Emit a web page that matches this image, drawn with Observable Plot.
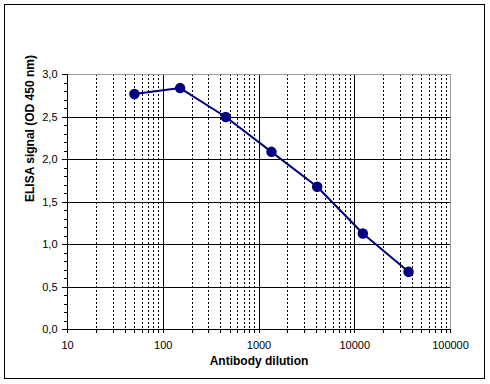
<!DOCTYPE html>
<html>
<head>
<meta charset="utf-8">
<script src="https://cdn.jsdelivr.net/npm/d3@7"></script>
<script src="https://cdn.jsdelivr.net/npm/@observablehq/plot@0.6"></script>
<style>
  body { margin: 0; background: #fff; }
  #wrap { position: relative; width: 490px; height: 384px; }
  #border { position: absolute; left: 4px; top: 4px; width: 479px; height: 373px; border: 1px solid #000; pointer-events: none; }
</style>
</head>
<body>
<div id="wrap"><div id="border"></div></div>
<script>
const dilution = [50, 150, 450, 1350, 4050, 12150, 36450];
const signal = [2.77, 2.84, 2.50, 2.09, 1.68, 1.13, 0.68];
const xMajorTicks = [10, 100, 1000, 10000, 100000];
const yMajorTicks = [0, 0.5, 1.0, 1.5, 2.0, 2.5, 3.0];
const xTitle = "Antibody dilution";
const yTitle = "ELISA signal (OD 450 nm)";

const data = dilution.map((d, i) => ({dilution: d, signal: signal[i]}));
const xMinorTicks = [];
for (let e = 1; e < 5; e++) for (let k = 2; k <= 9; k++) xMinorTicks.push(k * Math.pow(10, e));
const yMinorTicks = d3.range(0, 31).map(i => i / 10);
const comma = d => d.toFixed(1).replace(".", ",");
const font = "Liberation Sans, Arial, sans-serif";
const crisp = {shapeRendering: "crispEdges"};

const chart = Plot.plot({
  width: 490,
  height: 384,
  marginLeft: 67,
  marginRight: 40,
  marginTop: 74,
  marginBottom: 55,
  style: {fontFamily: font, fontSize: "11px", color: "#000", background: "transparent"},
  x: {type: "log", domain: [10, 100000]},
  y: {domain: [0, 3]},
  marks: [
    Plot.ruleX(xMinorTicks, {stroke: "#000", strokeDasharray: "2,2", strokeWidth: 1, ...crisp}),
    Plot.ruleX(xMajorTicks.slice(1, -1), {stroke: "#000", strokeWidth: 1, ...crisp}),
    Plot.ruleY(yMajorTicks.slice(1, -1), {stroke: "#000", strokeWidth: 1, ...crisp}),
    Plot.ruleY([3], {stroke: "#999", ...crisp}),
    Plot.ruleX([100000], {stroke: "#999", ...crisp}),
    Plot.axisY(yMinorTicks, {tickSize: 3, text: null, label: null, stroke: "#000", ...crisp}),
    Plot.axisY(yMajorTicks, {tickSize: 5, tickPadding: 5, tickFormat: comma, label: null, stroke: "#000", fill: "#000", ...crisp}),
    Plot.axisX(xMinorTicks, {tickSize: 4, text: null, label: null, stroke: "#000", ...crisp}),
    Plot.axisX(xMajorTicks, {tickSize: 4, tickPadding: 8, tickFormat: d => String(d), label: null, stroke: "#000", fill: "#000", ...crisp}),
    Plot.ruleY([0], {stroke: "#000", strokeWidth: 1, ...crisp}),
    Plot.ruleX([10], {stroke: "#000", strokeWidth: 1, ...crisp}),
    Plot.line(data, {x: "dilution", y: "signal", stroke: "#000080", strokeWidth: 2}),
    Plot.dot(data, {x: "dilution", y: "signal", r: 4.5, fill: "#000080", stroke: "#000080"}),
    Plot.text([xTitle], {frameAnchor: "bottom", lineAnchor: "middle", dy: 32, text: d => d, fontWeight: "bold", fontSize: 12, fill: "#000"}),
    Plot.text([yTitle], {frameAnchor: "left", lineAnchor: "middle", dx: -37, rotate: -90, text: d => d, fontWeight: "bold", fontSize: 12, fill: "#000"})
  ]
});
document.getElementById("wrap").prepend(chart);
</script>
</body>
</html>
